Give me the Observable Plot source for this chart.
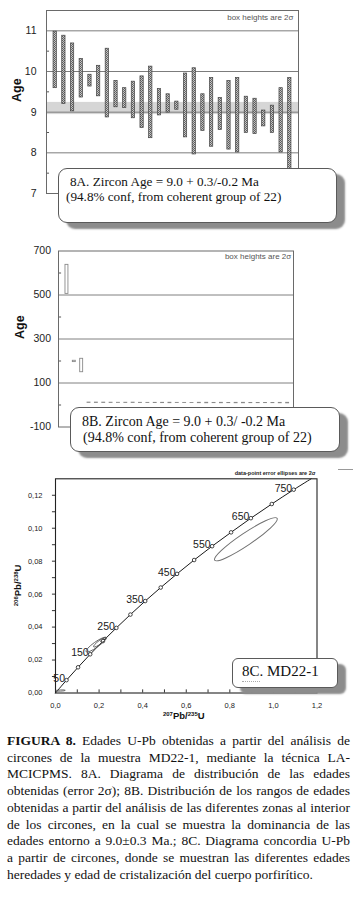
<!DOCTYPE html>
<html lang="es">
<head>
<meta charset="utf-8">
<script src="https://cdn.jsdelivr.net/npm/d3@7"></script>
<script src="https://cdn.jsdelivr.net/npm/@observablehq/plot@0.6"></script>
<style>
html,body{margin:0;padding:0;background:#fff;}
#wrap{position:relative;width:362px;height:898px;overflow:hidden;background:#fff;}
.plot{position:absolute;left:0;}
.box{position:absolute;box-sizing:border-box;background:#fff;border:1px solid #5a5a5a;border-radius:9px;box-shadow:8px 6px 2px #8c8c8c;}
.ln{position:absolute;white-space:pre;line-height:1;font-family:"Liberation Serif","Times New Roman",serif;color:#111;}
#cap{position:absolute;left:7px;top:733px;width:343px;font-family:"Liberation Serif","Times New Roman",serif;font-size:13.5px;line-height:16.7px;color:#111;}
#cap div{text-align:justify;text-align-last:justify;white-space:nowrap;}
#cap div.last{text-align:left;text-align-last:left;}
</style>
</head>
<body>
<div id="wrap"></div>
<script>
// ---------- DATA ----------
// Panel 8A: 28 zircon spot ages (Ma), 2-sigma box limits
const agesLow  = [9.59, 9.20, 9.02, 9.36, 9.63, 9.39, 8.87, 9.12, 9.10, 8.85, 8.61, 8.36, 8.92, 8.99,
                  9.06, 8.38, 7.96, 8.54, 8.15, 8.56, 8.08, 8.01, 8.49, 8.46, 8.65, 8.49, 8.01, 7.55];
const agesHigh = [10.98, 10.88, 10.69, 10.31, 9.92, 10.14, 10.56, 9.77, 9.59, 9.75, 9.88, 10.12, 9.57, 9.44,
                  9.26, 9.95, 10.08, 9.44, 9.84, 9.35, 9.77, 9.84, 9.38, 9.33, 9.04, 9.16, 9.59, 9.84];
const meanBand = [8.94, 9.24];
const ticksA = [7, 8, 9, 10, 11];
const gridA = [8, 9, 10, 11];
const minorA = [7.5, 8.5, 9.5, 10.5];

// Panel 8B: inherited ages (Ma) + the young group above
const inheritedLow  = [505, 195, 149];
const inheritedHigh = [637, 201, 210];
const ticksB = [-100, 100, 300, 500, 700];
const gridB = [100, 300, 500];
const minorB = [0, 200, 400, 600];

// Panel 8C: concordia age marks (Ma) and their ratio coordinates
const concAge = [0, 50, 100, 150, 200, 250, 300, 350, 400, 450, 500, 550, 600, 650, 700, 750, 788];
const concX   = [0, 0.0505, 0.1035, 0.1592, 0.2177, 0.2792, 0.3438, 0.4116, 0.4828, 0.5576, 0.6362,
                 0.7187, 0.8057, 0.8967, 0.9925, 1.0931, 1.173];
const concY   = [0, 0.0078, 0.0156, 0.0235, 0.0315, 0.0395, 0.0476, 0.0558, 0.0640, 0.0723, 0.0807,
                 0.0891, 0.0975, 0.1061, 0.1147, 0.1234, 0.1300];
const labelledAges = [50, 150, 250, 350, 450, 550, 650, 750];
// error ellipses: centre, 2-sigma half-extents, correlation
const ellX   = [0.876, 0.188, 0.207, 0.222, 0.025];
const ellY   = [0.0930, 0.0290, 0.0306, 0.0318, 0.0012];
const ellSx  = [0.144, 0.046, 0.030, 0.012, 0.022];
const ellSy  = [0.0131, 0.0045, 0.0030, 0.0013, 0.0004];
const ellRho = [0.94, 0.90, 0.90, 0.70, 0.30];
const ticksXC = [0, 0.2, 0.4, 0.6, 0.8, 1.0, 1.2];
const ticksYC = [0, 0.02, 0.04, 0.06, 0.08, 0.10, 0.12];
const minorXC = [0.1, 0.2, 0.3, 0.4, 0.5, 0.6, 0.7, 0.8, 0.9, 1.0, 1.1];
const minorYC = [0.01, 0.02, 0.03, 0.04, 0.05, 0.06, 0.07, 0.08, 0.09, 0.10, 0.11, 0.12];

// ---------- BUILD ----------
const wrap = document.getElementById("wrap");
const sans = "'Liberation Sans', Arial, sans-serif";
function place(el, top) { el.classList.add("plot"); el.style.top = top + "px"; wrap.appendChild(el); }

// Panel A
const dataA = agesLow.map((lo, i) => ({i: i + 1, lo, hi: agesHigh[i]}));
const plotA = Plot.plot({
  width: 362, height: 200,
  marginLeft: 46, marginRight: 64, marginTop: 10, marginBottom: 7,
  style: {fontFamily: sans, fontSize: "10.5px", color: "#222", background: "transparent"},
  x: {domain: [0, 29], axis: null},
  y: {domain: [7, 11.5], ticks: ticksA, tickSize: 0, tickPadding: 10, label: null, tickFormat: d => String(d)},
  marks: [
    Plot.rect([meanBand], {x1: 0, x2: 29, y1: d => d[0], y2: d => d[1], fill: "#d6d6d6"}),
    Plot.ruleY(gridA, {stroke: "#7c7c7c", strokeWidth: 1}),
    Plot.ruleY(minorA, {x1: 0, x2: 0.35, stroke: "#555"}),
    Plot.rect(dataA, {x1: d => d.i - 0.5, x2: d => d.i + 0.5, insetLeft: 2.7, insetRight: 2.7,
      y1: "lo", y2: "hi", fill: "url(#stipA)", stroke: "#444", strokeWidth: 0.7}),
    Plot.frame({stroke: "#6a6a6a"}),
    Plot.text(["box heights are 2σ"], {text: d => d, frameAnchor: "top-right", lineAnchor: "top", dx: -5, dy: 4.3, fontSize: 8, fill: "#555"}),
    Plot.text(["Age"], {text: d => d, frameAnchor: "left", dx: -30, rotate: -90, fontWeight: "bold", fontSize: 12.5, fill: "#111"})
  ]
});
d3.select(plotA).insert("defs", ":first-child").html(
  '<pattern id="stipA" width="2" height="2" patternUnits="userSpaceOnUse">' +
  '<rect width="2" height="2" fill="#c4c4c4"/><rect width="1" height="1" fill="#5a5a5a"/>' +
  '<rect x="1" y="1" width="1" height="1" fill="#6a6a6a"/></pattern>');
place(plotA, 0);

// Panel B
const dataB = inheritedLow.map((lo, i) => ({i: i + 1, lo, hi: inheritedHigh[i]}))
  .concat(agesLow.map((lo, i) => ({i: i + 4, lo, hi: agesHigh[i]})));
const plotB = Plot.plot({
  width: 362, height: 195,
  marginLeft: 58, marginRight: 69, marginTop: 10.5, marginBottom: 8.5,
  style: {fontFamily: sans, fontSize: "10.5px", color: "#222", background: "transparent"},
  x: {domain: [-0.15, 31.8], axis: null},
  y: {domain: [-100, 700], ticks: ticksB, tickSize: 0, tickPadding: 7.5, label: null, tickFormat: d => String(d)},
  marks: [
    Plot.ruleY(gridB, {stroke: "#808080", strokeWidth: 1}),
    Plot.ruleY(minorB, {x1: -0.15, x2: 0.27, stroke: "#555"}),
    Plot.rect(dataB, {x1: d => d.i - 0.5, x2: d => d.i + 0.5, insetLeft: 2.2, insetRight: 2.2,
      y1: "lo", y2: "hi", fill: "white", stroke: "#8a8a8a", strokeWidth: 0.9}),
    Plot.frame({stroke: "#6a6a6a"}),
    Plot.text(["box heights are 2σ"], {text: d => d, frameAnchor: "top-right", lineAnchor: "top", dx: -2.3, dy: 2.8, fontSize: 8, fill: "#555"}),
    Plot.text(["Age"], {text: d => d, frameAnchor: "left", dx: -39, rotate: -90, fontWeight: "bold", fontSize: 12.5, fill: "#111"})
  ]
});
place(plotB, 240);

// Panel C
const conc = concAge.map((a, i) => ({age: a, x: concX[i], y: concY[i]}));
const marks = conc.filter(d => d.age > 0 && d.age <= 750);
const labels = conc.filter(d => labelledAges.includes(d.age));
const comma = k => d => d.toFixed(k).replace(".", ",");
const plotC = Plot.plot({
  width: 362, height: 262,
  marginLeft: 55, marginRight: 45.5, marginTop: 13.3, marginBottom: 34.5,
  style: {fontFamily: sans, fontSize: "7.5px", color: "#222", background: "transparent"},
  x: {domain: [0, 1.2], ticks: ticksXC, tickSize: 0, tickPadding: 9.5, label: null, tickFormat: comma(1)},
  y: {domain: [0, 0.13], ticks: ticksYC, tickSize: 0, tickPadding: 13, label: null, tickFormat: comma(2)},
  marks: [
    Plot.ruleY(minorYC, {x1: -0.014, x2: 0, stroke: "#333"}),
    Plot.ruleX(minorXC, {y1: 0, y2: 0.0019, stroke: "#333"}),
    Plot.line(conc, {x: "x", y: "y", stroke: "#1a1a1a", strokeWidth: 1, curve: "catmull-rom"}),
    Plot.dot(marks, {x: "x", y: "y", r: 1.8, stroke: "#1a1a1a", strokeWidth: 0.8, fill: "white"}),
    Plot.text(labels, {x: "x", y: "y", text: d => String(d.age), textAnchor: "end", lineAnchor: "middle", dx: -1.5, dy: -1.4, fontSize: 10.5, fill: "#1a1a1a"}),
    Plot.frame({stroke: "#222", strokeWidth: 1.1}),
    Plot.text(["data-point error ellipses are 2σ"], {text: d => d, frameAnchor: "top-right", lineAnchor: "middle", dx: -1.5, dy: -6, fontSize: 5.5, fontWeight: "bold", fill: "#222"})
  ]
});
(function drawEllipses() {
  const X = plotC.scale("x"), Y = plotC.scale("y");
  const kx = (X.range[1] - X.range[0]) / (X.domain[1] - X.domain[0]);
  const ky = (Y.range[1] - Y.range[0]) / (Y.domain[1] - Y.domain[0]);
  const g = d3.select(plotC).append("g").attr("fill", "none");
  ellX.forEach((cx, i) => {
    const Sx = ellSx[i] * Math.abs(kx), Sy = ellSy[i] * Math.abs(ky);
    const sxx = Sx * Sx, syy = Sy * Sy, sxy = ellRho[i] * Sx * Sy * Math.sign(kx * ky);
    const m = (sxx + syy) / 2, d = Math.sqrt(((sxx - syy) / 2) ** 2 + sxy * sxy);
    const ang = 0.5 * Math.atan2(2 * sxy, sxx - syy) * 180 / Math.PI;
    const px = X.apply(cx), py = Y.apply(ellY[i]);
    g.append("ellipse").attr("cx", px).attr("cy", py)
      .attr("rx", Math.sqrt(m + d)).attr("ry", Math.sqrt(Math.max(m - d, 0.25)))
      .attr("transform", `rotate(${ang},${px},${py})`)
      .attr("stroke", i === 0 ? "#707070" : "#555").attr("stroke-width", i === 0 ? 1 : 0.8);
  });
  // axis titles with superscripts
  const svg = d3.select(plotC);
  const cxm = (X.range[0] + X.range[1]) / 2, cym = (Y.range[0] + Y.range[1]) / 2;
  function title(t, sup1, main1, sup2, main2) {
    t.attr("font-family", sans).attr("font-weight", "bold").attr("fill", "#111").attr("font-size", 9.5).attr("text-anchor", "middle");
    t.append("tspan").attr("font-size", 6).attr("dy", -3.5).text(sup1);
    t.append("tspan").attr("dy", 3.5).text(main1);
    t.append("tspan").attr("font-size", 6).attr("dy", -3.5).text(sup2);
    t.append("tspan").attr("dy", 3.5).text(main2);
  }
  title(svg.append("text").attr("x", cxm - 2).attr("y", Y.range[0] + 26.5), "207", "Pb/", "235", "U");
  const yt = svg.append("text").attr("transform", `translate(${X.range[0] - 34},${cym}) rotate(-90)`);
  title(yt, "206", "Pb/", "238", "U");
})();
place(plotC, 465);

// ---------- annotation boxes ----------
function box(l, t, w, h, r) {
  const b = document.createElement("div"); b.className = "box";
  Object.assign(b.style, {left: l + "px", top: t + "px", width: w + "px", height: h + "px", borderRadius: r + "px"});
  wrap.appendChild(b);
}
function line(txt, l, baseline, fs) {
  const s = document.createElement("div"); s.className = "ln"; s.textContent = txt;
  Object.assign(s.style, {left: l + "px", top: (baseline - 0.8375 * fs) + "px", fontSize: fs + "px"});
  wrap.appendChild(s); return s;
}
box(58, 168, 279, 55, 9);
line("8A. Zircon Age = 9.0 + 0.3/-0.2 Ma", 70, 186, 13.2);
line("(94.8% conf, from coherent group of 22)", 66, 201, 13.2);
box(70, 407, 270, 45, 9);
line("8B. Zircon Age = 9.0 + 0.3/ -0.2 Ma", 82, 427, 14);
line("(94.8% conf, from coherent group of 22)", 83, 443, 14);
box(232, 658, 106, 30, 6);
line("8C. MD22-1", 242, 677, 15);
const dots = document.createElement("div");
Object.assign(dots.style, {position: "absolute", left: "242px", top: "681px", width: "18px", borderBottom: "1px dotted #aaa"});
wrap.appendChild(dots);
const stray = document.createElement("div");
Object.assign(stray.style, {position: "absolute", left: "338px", top: "469px", width: "15px", height: "1px", background: "#999"});
wrap.appendChild(stray);

// ---------- caption ----------
const capLines = [
  "<b>FIGURA 8.</b> Edades U-Pb obtenidas a partir del análisis de",
  "circones de la muestra MD22-1, mediante la técnica LA-",
  "MCICPMS. 8A. Diagrama de distribución de las edades",
  "obtenidas (error 2σ); 8B. Distribución de los rangos de edades",
  "obtenidas a partir del análisis de las diferentes zonas al interior",
  "de los circones, en la cual se muestra la dominancia de las",
  "edades entorno a 9.0±0.3 Ma.; 8C. Diagrama concordia U-Pb",
  "a partir de circones, donde se muestran las diferentes edades",
  "heredades y edad de cristalización del cuerpo porfirítico."
];
const cap = document.createElement("div"); cap.id = "cap";
cap.innerHTML = capLines.map((t, i) => `<div${i === capLines.length - 1 ? ' class="last"' : ''}>${t}</div>`).join("");
wrap.appendChild(cap);
</script>
</body>
</html>
